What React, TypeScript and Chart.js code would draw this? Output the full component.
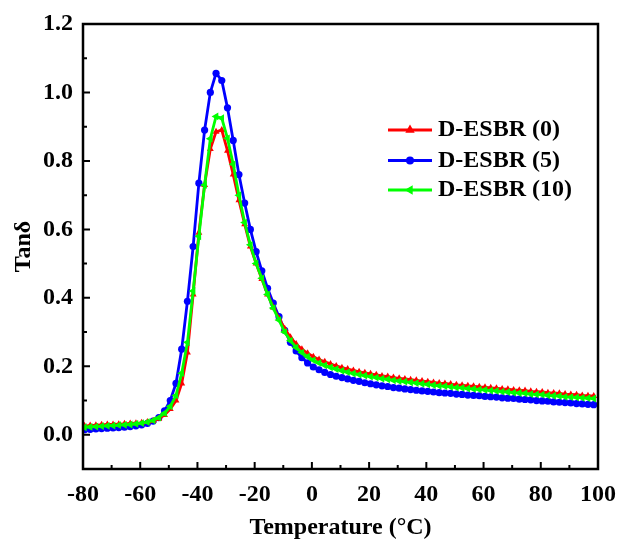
import React, { useEffect, useRef } from 'react';
import { Chart, registerables } from 'chart.js';

Chart.register(...registerables);

// Temperature (°C)
const temperatures = [
  -79.5, -77.5, -75.5, -73.5, -71.5, -69.5, -67.5, -65.5, -63.5, -61.5,
  -59.5, -57.5, -55.5, -53.5, -51.5, -49.5, -47.5, -45.5, -43.5, -41.5,
  -39.5, -37.5, -35.5, -33.5, -31.5, -29.5, -27.5, -25.5, -23.5, -21.5,
  -19.5, -17.5, -15.5, -13.5, -11.5, -9.5, -7.5, -5.5, -3.5, -1.5,
  0.5, 2.5, 4.5, 6.5, 8.5, 10.5, 12.5, 14.5, 16.5, 18.5,
  20.5, 22.5, 24.5, 26.5, 28.5, 30.5, 32.5, 34.5, 36.5, 38.5,
  40.5, 42.5, 44.5, 46.5, 48.5, 50.5, 52.5, 54.5, 56.5, 58.5,
  60.5, 62.5, 64.5, 66.5, 68.5, 70.5, 72.5, 74.5, 76.5, 78.5,
  80.5, 82.5, 84.5, 86.5, 88.5, 90.5, 92.5, 94.5, 96.5, 98.5,
];

const tanDelta0 = [
  0.026, 0.027, 0.028, 0.029, 0.030, 0.030, 0.031, 0.032, 0.033, 0.034,
  0.035, 0.037, 0.040, 0.047, 0.058, 0.075, 0.100, 0.150, 0.240, 0.410,
  0.590, 0.730, 0.835, 0.885, 0.890, 0.830, 0.760, 0.685, 0.615, 0.550,
  0.500, 0.455, 0.410, 0.372, 0.340, 0.310, 0.285, 0.265, 0.250, 0.238,
  0.228, 0.220, 0.213, 0.207, 0.201, 0.196, 0.192, 0.188, 0.184, 0.181,
  0.178, 0.175, 0.172, 0.170, 0.167, 0.165, 0.163, 0.161, 0.159, 0.157,
  0.155, 0.153, 0.151, 0.150, 0.148, 0.146, 0.145, 0.143, 0.142, 0.140,
  0.139, 0.137, 0.136, 0.134, 0.133, 0.131, 0.130, 0.129, 0.127, 0.126,
  0.125, 0.123, 0.122, 0.121, 0.119, 0.118, 0.117, 0.115, 0.114, 0.113,
];

const tanDelta5 = [
  0.015, 0.016, 0.017, 0.018, 0.019, 0.020, 0.021, 0.022, 0.024, 0.026,
  0.029, 0.033, 0.040, 0.050, 0.070, 0.100, 0.150, 0.250, 0.390, 0.550,
  0.735, 0.890, 1.000, 1.056, 1.035, 0.955, 0.860, 0.760, 0.677, 0.600,
  0.535, 0.479, 0.428, 0.385, 0.345, 0.305, 0.270, 0.245, 0.225, 0.210,
  0.198, 0.190, 0.182, 0.176, 0.171, 0.167, 0.163, 0.159, 0.156, 0.152,
  0.149, 0.146, 0.143, 0.141, 0.138, 0.136, 0.134, 0.132, 0.130, 0.128,
  0.127, 0.125, 0.123, 0.122, 0.121, 0.119, 0.118, 0.116, 0.115, 0.114,
  0.112, 0.111, 0.110, 0.108, 0.107, 0.106, 0.104, 0.103, 0.102, 0.100,
  0.099, 0.098, 0.096, 0.095, 0.094, 0.093, 0.091, 0.090, 0.089, 0.088,
];

const tanDelta10 = [
  0.022, 0.023, 0.024, 0.025, 0.026, 0.027, 0.028, 0.029, 0.030, 0.032,
  0.034, 0.037, 0.042, 0.050, 0.063, 0.083, 0.115, 0.180, 0.270, 0.420,
  0.580, 0.730, 0.865, 0.930, 0.925, 0.866, 0.790, 0.700, 0.620, 0.555,
  0.500, 0.457, 0.410, 0.370, 0.335, 0.300, 0.275, 0.255, 0.240, 0.228,
  0.218, 0.210, 0.203, 0.197, 0.192, 0.187, 0.183, 0.179, 0.176, 0.173,
  0.170, 0.167, 0.164, 0.162, 0.159, 0.157, 0.155, 0.153, 0.151, 0.149,
  0.147, 0.145, 0.143, 0.142, 0.140, 0.138, 0.137, 0.135, 0.134, 0.132,
  0.131, 0.129, 0.128, 0.126, 0.125, 0.123, 0.122, 0.121, 0.119, 0.118,
  0.117, 0.115, 0.114, 0.113, 0.111, 0.110, 0.109, 0.108, 0.107, 0.106,
];

const seriesNames = ['D-ESBR (0)', 'D-ESBR (5)', 'D-ESBR (10)'];
const xTickValues = [-80, -60, -40, -20, 0, 20, 40, 60, 80, 100];
const xMinorTicks = [-70, -50, -30, -10, 10, 30, 50, 70, 90];
const yTickValues = [0, 0.2, 0.4, 0.6, 0.8, 1.0, 1.2];
const yMinorTicks = [-0.1, 0.1, 0.3, 0.5, 0.7, 0.9, 1.1];

const FONT = '"Liberation Serif", "Times New Roman", serif';

function drawMarker(ctx: CanvasRenderingContext2D, style: string, rot: number, x: number, y: number, r: number, color: string) {
  ctx.save();
  ctx.fillStyle = color;
  ctx.beginPath();
  if (style === 'circle') {
    ctx.arc(x, y, r, 0, Math.PI * 2);
  } else {
    const a = (rot * Math.PI) / 180;
    for (let k = 0; k < 3; k++) {
      const ang = a + (k * 2 * Math.PI) / 3;
      const px = x + Math.sin(ang) * r * 1.2;
      const py = y - Math.cos(ang) * r * 1.2;
      if (k === 0) ctx.moveTo(px, py);
      else ctx.lineTo(px, py);
    }
    ctx.closePath();
  }
  ctx.fill();
  ctx.restore();
}

const framePlugin = {
  id: 'frameTicksLegend',
  afterDatasetsDraw(chart: any) {
    const { ctx, chartArea, scales } = chart;
    const { left, right, top, bottom } = chartArea;
    const xs = scales.x;
    const ys = scales.y;
    ctx.save();
    ctx.strokeStyle = '#000';
    ctx.lineWidth = 2.5;
    ctx.strokeRect(left, top, right - left, bottom - top);
    ctx.lineWidth = 2;
    ctx.beginPath();
    xTickValues.forEach((v) => {
      const px = xs.getPixelForValue(v);
      ctx.moveTo(px, bottom);
      ctx.lineTo(px, bottom - 7);
    });
    xMinorTicks.forEach((v) => {
      const px = xs.getPixelForValue(v);
      ctx.moveTo(px, bottom);
      ctx.lineTo(px, bottom - 4);
    });
    yTickValues.forEach((v) => {
      const py = ys.getPixelForValue(v);
      ctx.moveTo(left, py);
      ctx.lineTo(left + 7, py);
    });
    yMinorTicks.forEach((v) => {
      const py = ys.getPixelForValue(v);
      ctx.moveTo(left, py);
      ctx.lineTo(left + 4, py);
    });
    ctx.stroke();

    // Legend
    const lx0 = 388;
    const lx1 = 432;
    const ly = [130, 160.5, 190];
    chart.data.datasets.forEach((ds: any, i: number) => {
      const y = ly[i];
      ctx.strokeStyle = ds.borderColor;
      ctx.lineWidth = 2.8;
      ctx.beginPath();
      ctx.moveTo(lx0, y);
      ctx.lineTo(lx1, y);
      ctx.stroke();
      drawMarker(ctx, ds.pointStyle, ds.pointRotation || 0, (lx0 + lx1) / 2, y, ds.pointStyle === 'circle' ? 4 : 4.5, ds.borderColor);
      ctx.fillStyle = '#000';
      ctx.font = `bold 24px ${FONT}`;
      ctx.textAlign = 'left';
      ctx.textBaseline = 'middle';
      ctx.fillText(ds.label, 438, y);
    });
    ctx.restore();
  },
};

export default function App() {
  const canvasRef = useRef<HTMLCanvasElement | null>(null);

  useEffect(() => {
    const canvas = canvasRef.current;
    if (!canvas) return;
    const mk = (arr: number[]) => temperatures.map((t, i) => ({ x: t, y: arr[i] }));
    const tickFont = { family: FONT, size: 24, weight: 'bold' as const };
    const chart = new Chart(canvas, {
      type: 'line',
      data: {
        datasets: [
          {
            label: seriesNames[0],
            data: mk(tanDelta0),
            borderColor: '#ff0000',
            backgroundColor: '#ff0000',
            borderWidth: 2.8,
            pointStyle: 'triangle',
            pointRadius: 4,
            pointBorderWidth: 0,
            pointRotation: 0,
            order: 1,
          },
          {
            label: seriesNames[1],
            data: mk(tanDelta5),
            borderColor: '#0000ff',
            backgroundColor: '#0000ff',
            borderWidth: 2.8,
            pointStyle: 'circle',
            pointRadius: 3.6,
            pointBorderWidth: 0,
            order: 2,
          },
          {
            label: seriesNames[2],
            data: mk(tanDelta10),
            borderColor: '#00ff00',
            backgroundColor: '#00ff00',
            borderWidth: 2.8,
            pointStyle: 'triangle',
            pointRadius: 4.5,
            pointBorderWidth: 0,
            pointRotation: -90,
            order: 0,
          },
        ],
      },
      options: {
        responsive: false,
        animation: false,
        devicePixelRatio: 1,
        layout: { padding: { top: 24, right: 21, left: 0, bottom: 0 } },
        plugins: {
          legend: { display: false },
          tooltip: { enabled: false },
        },
        elements: { line: { tension: 0 } },
        scales: {
          x: {
            type: 'linear',
            min: -80,
            max: 100,
            afterBuildTicks: (scale: any) => {
              scale.ticks = xTickValues.map((value) => ({ value }));
            },
            afterFit: (scale: any) => {
              scale.height = 74;
              scale.paddingLeft = 0;
              scale.paddingRight = 0;
            },
            ticks: {
              font: tickFont,
              color: '#000',
              padding: 11,
              maxRotation: 0,
              autoSkip: false,
              callback: (v: any) => String(v),
            },
            grid: { display: false, drawTicks: false },
            border: { display: false },
            title: {
              display: true,
              text: 'Temperature (°C)',
              color: '#000',
              font: tickFont,
              padding: { top: 0, bottom: 1 },
            },
          },
          y: {
            type: 'linear',
            min: -0.1,
            max: 1.2,
            afterBuildTicks: (scale: any) => {
              scale.ticks = yTickValues.map((value) => ({ value }));
            },
            afterFit: (scale: any) => {
              scale.width = 83;
              scale.paddingTop = 0;
              scale.paddingBottom = 0;
            },
            ticks: {
              font: tickFont,
              color: '#000',
              padding: 10,
              autoSkip: false,
              callback: (v: any) => Number(v).toFixed(1),
            },
            grid: { display: false, drawTicks: false },
            border: { display: false },
            title: {
              display: true,
              text: 'Tanδ',
              color: '#000',
              font: tickFont,
              padding: { top: 9, bottom: 0 },
            },
          },
        },
      },
      plugins: [framePlugin],
    } as any);
    return () => chart.destroy();
  }, []);

  return (
    <div style={{ position: 'absolute', left: 0, top: 0, width: 619, height: 543, background: '#fff' }}>
      <canvas ref={canvasRef} width={619} height={543} style={{ display: 'block' }} />
    </div>
  );
}
